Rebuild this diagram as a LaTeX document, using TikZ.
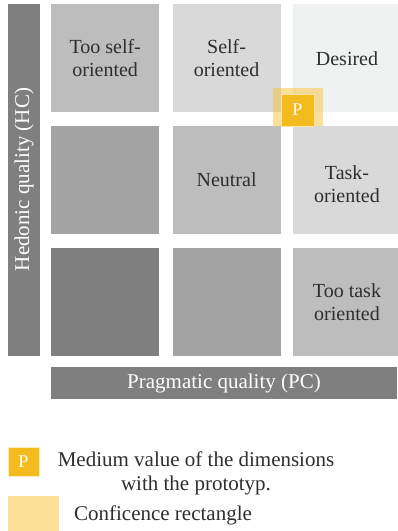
\documentclass[tikz,border=0pt]{standalone}
\usepackage{fontspec}
\setmainfont{Liberation Serif}
\usetikzlibrary{positioning}

\definecolor{dark}{HTML}{7F7F7F}
\definecolor{mid}{HTML}{A3A3A3}
\definecolor{light}{HTML}{BDBDBD}
\definecolor{pale}{HTML}{D9D9D9}
\definecolor{paler}{HTML}{F0F1F1}
\definecolor{ink}{HTML}{2E2E2E}
\definecolor{proto}{HTML}{F4BB1F}
\definecolor{conf}{HTML}{F6C232}

\tikzset{
	cell/.style={minimum size=108pt, inner sep=0pt, align=center, text=ink,
		font=\rmfamily\fontsize{20}{23}\selectfont},
	axis/.style={fill=dark, inner sep=0pt, text=white,
		font=\rmfamily\fontsize{21}{23}\selectfont},
	legtext/.style={inner sep=0pt, align=center, text=ink,
		font=\rmfamily\fontsize{21}{24}\selectfont}
}

\begin{document}
\begin{tikzpicture}[x=1pt, y=-1pt, node distance=13pt]

	\useasboundingbox (0,0) rectangle (397,531);

		% axes
		\node[axis, rotate=90, minimum width=352pt, minimum height=32pt] (hc) at (24,179.5) {Hedonic quality (HC)};
		\node[axis, minimum width=346pt, minimum height=32pt] (pc) at (224,383) {Pragmatic quality (PC)};

		% the nine fields
		\node[cell, fill=light, anchor=north west] (a1) at (51,4) {Too self-\\oriented};
		\node[cell, fill=pale, right=of a1] (a2) {Self-\\oriented};
		\node[cell, fill=paler, right=12pt of a2] (a3) {Desired};

		\node[cell, fill=mid, below=of a1] (b1) {};
		\node[cell, fill=light, right=of b1] (b2) {Neutral};
		\node[cell, fill=pale, right=12pt of b2] (b3) {};
		\node[cell, minimum size=0pt, below=5pt of b3.center, anchor=center] (b3text) {Task-\\oriented};

		\node[cell, fill=dark, below=14pt of b1] (c1) {};
		\node[cell, fill=mid, right=of c1] (c2) {};
		\node[cell, fill=light, right=12pt of c2] (c3) {Too task\\oriented};

		% prototype with its confidence rectangle
		\node[fill=conf, fill opacity=0.5, minimum width=50pt, minimum height=38pt, inner sep=0pt] (cr) at (298,107) {};
		\node[fill=proto, draw=proto!40, line width=0.8pt, minimum width=33pt, minimum height=32pt, inner sep=0pt,
			text=white, font=\rmfamily\fontsize{18}{18}\selectfont] (p) at (297.5,110) {P};

		% legend
		\node[fill=proto, draw=proto!30, line width=0.6pt, minimum width=31pt, minimum height=29pt, inner sep=0pt,
			text=white, font=\rmfamily\fontsize{18}{18}\selectfont] (legp) at (23.5,461.5) {P};
		\node[legtext] (legptext) at (196,473) {Medium value of the dimensions\\with the prototyp.};
		\node[fill=conf, fill opacity=0.5, minimum width=51pt, minimum height=40pt, inner sep=0pt] (legc) at (33.5,516) {};
		\node[legtext] (legctext) at (163,515) {Conficence rectangle};

\end{tikzpicture}
\end{document}
